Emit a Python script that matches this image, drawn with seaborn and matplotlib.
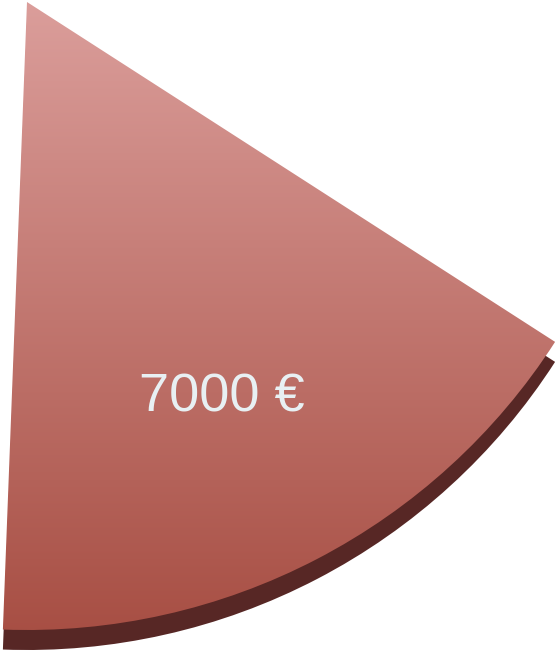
import numpy as np
import matplotlib
matplotlib.use("Agg")
import matplotlib.pyplot as plt
import matplotlib.colors as mcolors
import seaborn as sns

# slice values: the visible slice and the rest of the pie (cropped away)
slice_labels = ["7000 €", ""]
slice_values = [7000, 35400]

# colours
top_light = "#db9e9b"
top_dark = "#a74e43"
side_color = "#572725"
label_color = "#e8f0f3"

sns.set_theme(style="white")
plt.rcParams["font.family"] = ["Liberation Sans", "DejaVu Sans"]

W, H = 560, 656
fig = plt.figure(figsize=(W / 100, H / 100), dpi=100)
ax = fig.add_axes([0, 0, 1, 1])

center = (27, H - 2)
radius = 628
start = 267.8
depth = 20

# extruded side of the pie (shifted copy underneath)
side, _ = ax.pie(slice_values, radius=radius, center=(center[0], center[1] - depth),
                 startangle=start, colors=[side_color, "none"],
                 wedgeprops=dict(linewidth=0))
side[1].set_visible(False)

# top face
wedges, texts = ax.pie(slice_values, labels=slice_labels, radius=radius, center=center,
                       startangle=start, colors=["none", "none"], labeldistance=0.70,
                       wedgeprops=dict(linewidth=0),
                       textprops=dict(color=label_color, fontsize=39, ha="center", va="center"))
wedges[1].set_visible(False)

# vertical gradient clipped to the top face
cmap = mcolors.LinearSegmentedColormap.from_list("grad", [top_dark, top_light])
grad = np.linspace(0, 1, 256).reshape(-1, 1)
img = ax.imshow(grad, cmap=cmap, origin="lower", aspect="auto",
                extent=(0, W, H - 640, H), zorder=1)
img.set_clip_path(wedges[0])
for t in texts:
    x, y = t.get_position()
    t.set_position((x - 8, y - 6))
    t.set_zorder(3)

ax.set_xlim(0, W)
ax.set_ylim(0, H)
ax.set_aspect("equal")
ax.axis("off")

fig.savefig("out.png", dpi=100, facecolor="white")
